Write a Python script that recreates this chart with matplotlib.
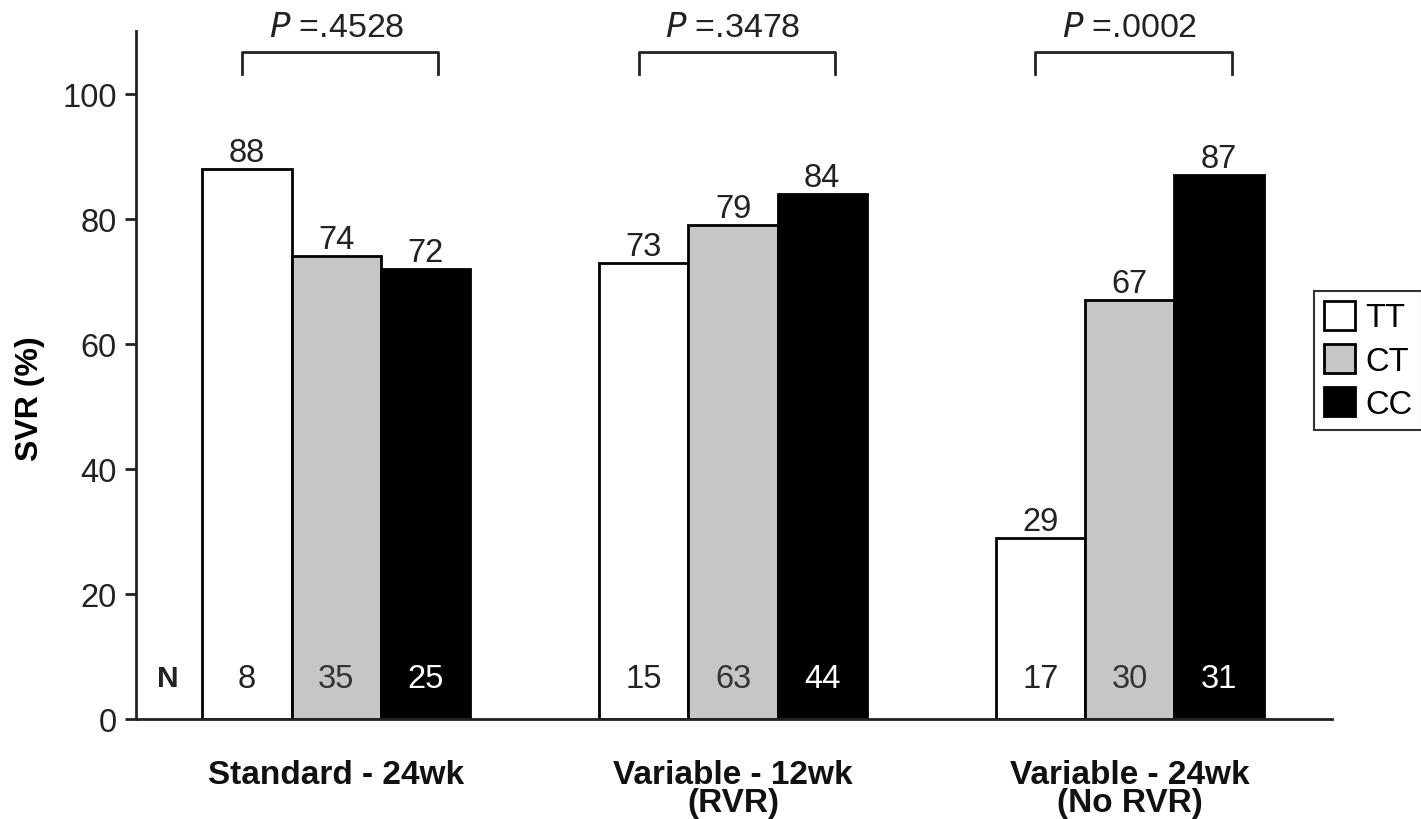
import matplotlib.pyplot as plt
import numpy as np

plt.rcParams['font.family'] = ['Liberation Sans', 'DejaVu Sans']

groups = ['Standard - 24wk', 'Variable - 12wk\n(RVR)', 'Variable - 24wk\n(No RVR)']
genotypes = ['TT', 'CT', 'CC']
svr = {
    'TT': [88, 73, 29],
    'CT': [74, 79, 67],
    'CC': [72, 84, 87],
}
n_pat = {
    'TT': [8, 15, 17],
    'CT': [35, 63, 30],
    'CC': [25, 44, 31],
}
p_vals = ['.4528', '.3478', '.0002']

fills = {'TT': 'white', 'CT': '#c6c6c6', 'CC': 'black'}
n_colors = {'TT': '#222222', 'CT': '#333333', 'CC': 'white'}

fig = plt.figure(figsize=(14.21, 8.2), dpi=100)
ax = fig.add_axes([0.0957, 0.122, 0.8417, 0.8384])

x = np.arange(len(groups))
w = 0.225
fs = 23.5

for k, g in enumerate(genotypes):
    pos = x + (k - 1) * w
    ax.bar(pos, svr[g], width=w, color=fills[g], edgecolor='black',
           linewidth=2, label=g)
    for xi, v, n in zip(pos, svr[g], n_pat[g]):
        ax.text(xi, v + 1.3, str(v), ha='center', va='baseline',
                fontsize=fs, color='#222222')
        ax.text(xi, 6.5, str(n), ha='center', va='center',
                fontsize=fs, color=n_colors[g])

ax.text(-0.424, 6.5, 'N', ha='center', va='center', fontsize=fs - 2,
        fontweight='bold', color='#222222')

# significance brackets
for xi, p in zip(x, p_vals):
    x0, x1 = xi - 0.238, xi + 0.257
    ax.plot([x0, x0, x1, x1], [103.2, 106.7, 106.7, 103.2], color='#222222',
            lw=2, clip_on=False)
    ax.text(xi, 110.6, r'$\it{P}$ =' + p, ha='center', va='center',
            fontsize=fs + 1, color='#222222', clip_on=False)

ax.set_xlim(-0.505, 2.51)
ax.set_ylim(0, 110)
ax.set_yticks([0, 20, 40, 60, 80, 100])
ax.tick_params(axis='y', labelsize=fs, length=8, width=2, colors='#222222',
               pad=6)
ax.set_xticks(x)
ax.set_xticklabels(groups, fontsize=24, fontweight='bold', linespacing=0.86)
ax.tick_params(axis='x', length=0, pad=29, colors='#111111')
ax.set_ylabel('SVR (%)', fontsize=23, fontweight='bold')
ax.yaxis.set_label_coords(-0.076, 0.467)

for s in ['top', 'right']:
    ax.spines[s].set_visible(False)
for s in ['left', 'bottom']:
    ax.spines[s].set_linewidth(2)
    ax.spines[s].set_color('#222222')

leg = fig.legend(loc='upper left', bbox_to_anchor=(0.925, 0.644),
                 fontsize=fs, frameon=True, fancybox=False,
                 handlelength=0.95, handleheight=1.0, handletextpad=0.3,
                 borderpad=0.3, labelspacing=0.32, borderaxespad=0)
leg.get_frame().set_edgecolor('black')
leg.get_frame().set_linewidth(1.5)

fig.savefig('out.png', dpi=100)
